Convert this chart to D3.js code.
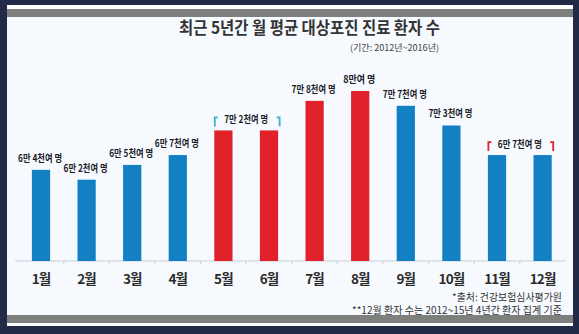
<!DOCTYPE html>
<html><head><meta charset="utf-8">
<script src="https://cdn.jsdelivr.net/npm/d3@7/dist/d3.min.js"></script>
<style>
html,body{margin:0;padding:0;background:#232a48;}
svg{display:block;}
text{font-family:"Noto Sans CJK KR","Noto Sans",sans-serif;}
</style></head>
<body>
<svg id="c" width="579" height="334"></svg>
<script>
const months = ["1월","2월","3월","4월","5월","6월","7월","8월","9월","10월","11월","12월"];
const patients = [64000,62000,65000,67000,72000,72000,78000,80000,77000,73000,67000,67000];
const valueLabels = ["6만 4천여 명","6만 2천여 명","6만 5천여 명","6만 7천여 명","7만 2천여 명","7만 2천여 명","7만 8천여 명","8만여 명","7만 7천여 명","7만 3천여 명","6만 7천여 명","6만 7천여 명"];
const summerMonths = ["5월","6월","7월","8월"];
const pairedGroups = [["5월","6월"],["11월","12월"]];
const titleText = "최근 5년간 월 평균 대상포진 진료 환자 수";
const periodText = "(기간: 2012년~2016년)";
const notes = ["*출처: 건강보험심사평가원","**12월 환자 수는 2012~15년 4년간 환자 집계 기준"];

const W = 579, H = 334;
const svg = d3.select("#c");
const BLUE = "#1280c2", RED = "#e2222a", TEAL = "#3cb2c8";

// frame
svg.append("rect").attr("width",W).attr("height",H).attr("fill","#232a48");
svg.append("rect").attr("x",7).attr("y",5).attr("width",566).attr("height",321).attr("fill","#ffffff");
svg.append("rect").attr("x",7).attr("y",17).attr("width",566).attr("height",298).attr("fill","#f6faff");
svg.append("rect").attr("x",7).attr("y",9).attr("width",566).attr("height",8).attr("fill","#7e807d");
svg.append("rect").attr("x",7).attr("y",315).attr("width",566).attr("height",8).attr("fill","#7e807d");

// scales
const x = d3.scaleBand().domain(months).range([18.2,565.4]).paddingInner(0.6).paddingOuter(0.3);
const y = d3.scaleLinear().domain([45500,80000]).range([261,91]);
const data = months.map((m,i)=>({m, v:patients[i], label:valueLabels[i]}));

// axis
const axis = d3.axisBottom(x).tickSize(0).tickPadding(0).tickFormat("");
const gAxis = svg.append("g").attr("transform","translate(0,261)").call(axis);
gAxis.select(".domain").attr("d","M15,0H566").attr("stroke","#c9ced6");
const bounds = months.slice(1).map(m => x(m) - x.step()*x.paddingInner()/2);
gAxis.selectAll(".sep").data(bounds).enter().append("line")
  .attr("x1",d=>d).attr("x2",d=>d).attr("y1",0).attr("y2",3).attr("stroke","#c9ced6");

// bars
svg.append("g").selectAll("rect").data(data).enter().append("rect")
  .attr("x",d=>x(d.m)).attr("width",x.bandwidth())
  .attr("y",d=>y(d.v)).attr("height",d=>y(45500)-y(d.v))
  .attr("fill",d=>summerMonths.includes(d.m)?RED:BLUE);

// month labels
svg.append("g").selectAll("text").data(months).enter().append("text")
  .attr("x",d=>x(d)+x.bandwidth()/2).attr("y",284)
  .attr("text-anchor","middle").attr("font-size",13.5).attr("font-weight",700)
  .attr("letter-spacing",-0.9).attr("fill","#2b2b2b").text(d=>d);

// value labels (single)
const pairedSet = pairedGroups.flat();
svg.append("g").selectAll("text").data(data.filter(d=>!pairedSet.includes(d.m))).enter().append("text")
  .attr("x",d=>x(d.m)+x.bandwidth()/2-1).attr("y",d=>y(d.v)-8)
  .attr("text-anchor","middle").attr("font-size",10.5).attr("font-weight",700)
  .attr("textLength",d=>d.label.length>6?44:32).attr("lengthAdjust","spacingAndGlyphs")
  .attr("fill","#1d1d28").text(d=>d.label);

// paired labels with brackets
pairedGroups.forEach(g=>{
  const a = data.find(d=>d.m===g[0]), b = data.find(d=>d.m===g[1]);
  const x0 = x(a.m), x1 = x(b.m)+x.bandwidth();
  const top = y(Math.max(a.v,b.v));
  const cy = top - 11;
  const col = summerMonths.includes(a.m) ? TEAL : RED;
  svg.append("text").attr("x",(x0+x1)/2).attr("y",cy+4)
    .attr("text-anchor","middle").attr("font-size",10.5).attr("font-weight",700)
    .attr("textLength",44).attr("lengthAdjust","spacingAndGlyphs")
    .attr("fill","#1d1d28").text(a.label);
  svg.append("path").attr("d",`M${x0+0.5},${top-4}V${cy-2}H${x0+3.5}`)
    .attr("fill","none").attr("stroke",col).attr("stroke-width",1.8);
  svg.append("path").attr("d",`M${x1+1.5},${top-4}V${cy-2}H${x1-1.5}`)
    .attr("fill","none").attr("stroke",col).attr("stroke-width",1.8);
});

// titles
svg.append("text").attr("x",309.5).attr("y",34).attr("text-anchor","middle")
  .attr("font-size",17).attr("font-weight",700).attr("fill","#333333")
  .attr("textLength",261).attr("lengthAdjust","spacingAndGlyphs").text(titleText);
svg.append("text").attr("x",439).attr("y",51).attr("text-anchor","end")
  .attr("font-size",9).attr("fill","#444").attr("textLength",89)
  .attr("lengthAdjust","spacingAndGlyphs").text(periodText);

// notes
svg.append("text").attr("x",562).attr("y",300.5).attr("text-anchor","end")
  .attr("font-size",10).attr("fill","#333").attr("textLength",110)
  .attr("lengthAdjust","spacingAndGlyphs").text(notes[0]);
svg.append("text").attr("x",562).attr("y",314).attr("text-anchor","end")
  .attr("font-size",10).attr("fill","#333").attr("textLength",210)
  .attr("lengthAdjust","spacingAndGlyphs").text(notes[1]);
</script>
</body></html>
